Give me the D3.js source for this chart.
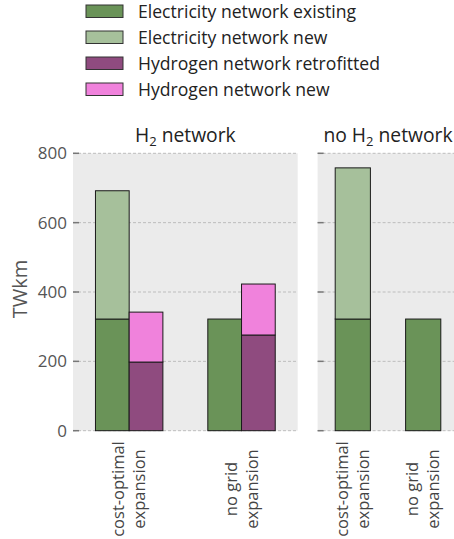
<!DOCTYPE html>
<html>
<head>
<meta charset="utf-8">
<script src="https://cdn.jsdelivr.net/npm/d3@7"></script>
<style>
  html, body { margin: 0; padding: 0; background: #fff; }
  svg { display: block; font-family: "Open Sans", "DejaVu Sans", sans-serif; }
</style>
</head>
<body>
<svg id="chart" width="454" height="539"></svg>
<script>
// Scenario categories (two-line labels)
const scenarios = [["cost-optimal", "expansion"], ["no grid", "expansion"]];

// Series values, TWkm
const elecExistingH2 = [322, 322];
const elecNewH2 = [370, 0];
const h2Retrofitted = [198, 276];
const h2New = [144, 147];

const elecExistingNoH2 = [322, 322];
const elecNewNoH2 = [436, 0];

const yTicks = [0, 200, 400, 600, 800];

const seriesNames = [
  "Electricity network existing",
  "Electricity network new",
  "Hydrogen network retrofitted",
  "Hydrogen network new"
];
const seriesColors = ["#6a9358", "#a6c09b", "#8f4b7f", "#f082dc"];

const svg = d3.select("#chart");

// Legend
const legend = svg.append("g").attr("transform", "translate(86,5)");
seriesNames.forEach((name, i) => {
  const g = legend.append("g").attr("transform", `translate(0,${i * 26})`);
  g.append("rect").attr("width", 37).attr("height", 12.5)
    .attr("fill", seriesColors[i]).attr("stroke", "#333").attr("stroke-width", 1);
  g.append("text").attr("x", 52).attr("y", 6.5).attr("dy", "0.35em")
    .attr("font-size", 17.6).attr("fill", "#222").text(name);
});

const yTop = 153.3, yBottom = 430.7;
const y = d3.scaleLinear().domain([0, 800]).range([yBottom, yTop]);

function panel(x0, x1, title, stacks, barWidth, showLabels) {
  const x = d3.scaleLinear().domain([-0.5, 1.5]).range([x0, x1]);
  const unit = x(1) - x(0);
  const g = svg.append("g");
  g.append("rect").attr("x", x0).attr("y", yTop).attr("width", x1 - x0)
    .attr("height", yBottom - yTop).attr("fill", "#ebebeb");
  // grid
  g.selectAll("line.grid").data(yTicks).join("line")
    .attr("x1", x0).attr("x2", x1)
    .attr("y1", d => y(d)).attr("y2", d => y(d))
    .attr("stroke", "#bdbdbd").attr("stroke-width", 1).attr("stroke-dasharray", "3,2");
  // tick marks (inward)
  g.selectAll("line.tick").data(yTicks).join("line")
    .attr("x1", x0).attr("x2", x0 + 6)
    .attr("y1", d => y(d)).attr("y2", d => y(d))
    .attr("stroke", "#777").attr("stroke-width", 1.5);
  if (showLabels) {
    g.selectAll("text.ytick").data(yTicks).join("text")
      .attr("x", x0 - 6).attr("y", d => y(d)).attr("dy", "0.35em")
      .attr("text-anchor", "end").attr("font-size", 17).attr("fill", "#555")
      .text(d => d);
  }
  // stacked bars
  stacks.forEach(st => {
    st.values.forEach((segs, i) => {
      let base = 0;
      const w = barWidth * unit;
      const cx = x(i) + st.offset * w;
      segs.forEach(seg => {
        if (seg.v > 0) {
          g.append("rect")
            .attr("x", cx - w / 2).attr("width", w)
            .attr("y", y(base + seg.v)).attr("height", y(base) - y(base + seg.v))
            .attr("fill", seg.c).attr("stroke", "#1a1a1a").attr("stroke-width", 1);
        }
        base += seg.v;
      });
    });
  });
  // title
  const t = g.append("text").attr("x", (x0 + x1) / 2).attr("y", 142)
    .attr("text-anchor", "middle").attr("font-size", 19.3).attr("fill", "#222");
  title(t);
  // x labels
  scenarios.forEach((lines, i) => {
    const lg = g.append("g").attr("transform", `translate(${x(i)},489) rotate(-90)`);
    lines.forEach((ln, j) => {
      lg.append("text").attr("x", 0).attr("y", (j - (lines.length - 1) / 2) * 21)
        .attr("dy", "0.35em").attr("text-anchor", "middle")
        .attr("font-size", 16.5).attr("fill", "#444").text(ln);
    });
  });
}

panel(73, 297.7, t => {
  t.append("tspan").text("H");
  t.append("tspan").attr("font-size", 13).attr("dy", 4).text("2");
  t.append("tspan").attr("dy", -4).text(" network");
}, [
  { offset: -0.5, values: elecExistingH2.map((v, i) => [{ v, c: seriesColors[0] }, { v: elecNewH2[i], c: seriesColors[1] }]) },
  { offset: 0.5, values: h2Retrofitted.map((v, i) => [{ v, c: seriesColors[2] }, { v: h2New[i], c: seriesColors[3] }]) }
], 0.3, true);

panel(317.6, 458.4, t => {
  t.append("tspan").text("no H");
  t.append("tspan").attr("font-size", 13).attr("dy", 4).text("2");
  t.append("tspan").attr("dy", -4).text(" network");
}, [
  { offset: 0, values: elecExistingNoH2.map((v, i) => [{ v, c: seriesColors[0] }, { v: elecNewNoH2[i], c: seriesColors[1] }]) }
], 0.5, false);

// y-axis label
svg.append("text").attr("transform", `translate(27,${(yTop + yBottom) / 2 - 3}) rotate(-90)`)
  .attr("text-anchor", "middle").attr("font-size", 20).attr("fill", "#555").text("TWkm");
</script>
</body>
</html>
